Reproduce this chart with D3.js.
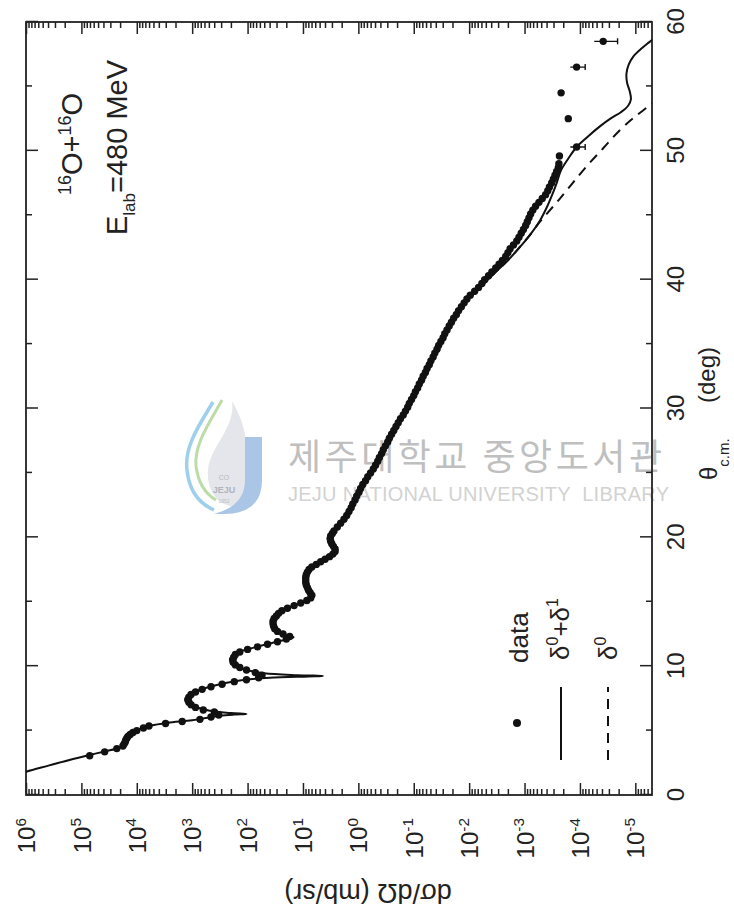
<!DOCTYPE html>
<html>
<head>
<meta charset="utf-8">
<script src="https://cdn.jsdelivr.net/npm/d3@7"></script>
<style>
  body { margin: 0; background: #fff; }
  svg { display: block; font-family: "Liberation Sans", Arial, sans-serif; }
</style>
</head>
<body>
<div id="chart"></div>
<script>
// 16O+16O elastic scattering at 480 MeV
// angles in degrees (c.m.), cross sections as log10 of mb/sr

var dataTheta = [
  3.05, 3.35, 3.6, 3.8, 3.95, 4.1, 4.25, 4.4, 4.55, 4.7, 4.85, 5.0, 5.2, 5.35, 5.55, 5.7, 5.87, 6.05, 6.2,
  6.45, 6.6, 6.8, 7.0, 7.2, 7.4, 7.6, 7.8, 8.0, 8.2, 8.4, 8.6, 8.8, 8.95, 9.1, 9.3, 9.5, 9.7, 9.9,
  10.1, 10.3, 10.5, 10.7, 10.9, 11.1, 11.3, 11.5, 11.7, 11.9, 12.1, 12.3, 12.5, 12.7, 12.9,
  13.1, 13.3, 13.5, 13.7, 13.9, 14.1, 14.3, 14.5, 14.7, 14.9, 15.1, 15.3, 15.5, 15.7, 15.9,
  16.1, 16.3, 16.5, 16.7, 16.9, 17.1, 17.3, 17.5, 17.7, 17.9, 18.1, 18.3, 18.5, 18.7, 18.9,
  19.1, 19.3, 19.5, 19.7, 19.9, 20.1, 20.3, 20.5, 20.8, 21.1, 21.4, 21.7, 22.0, 22.3, 22.6, 22.9,
  23.2, 23.5, 23.8, 24.1, 24.4, 24.7, 25.0, 25.3, 25.6, 25.9, 26.2, 26.5, 26.8, 27.1, 27.4, 27.7,
  28.0, 28.3, 28.6, 28.9, 29.2, 29.5, 29.8, 30.1, 30.4, 30.7, 31.0, 31.3, 31.6, 31.9, 32.2, 32.5,
  32.8, 33.1, 33.4, 33.7, 34.0, 34.3, 34.6, 34.9, 35.2, 35.5, 35.8, 36.1, 36.4, 36.7, 37.0, 37.3,
  37.6, 37.9, 38.2, 38.5, 38.8, 39.1, 39.4, 39.7, 40.0, 40.3, 40.6, 40.9, 41.2, 41.5, 41.8, 42.1,
  42.4, 42.7, 43.0, 43.3, 43.6, 43.9, 44.2, 44.5, 44.8, 45.1, 45.4, 45.7, 46.0, 46.3, 46.6, 46.9,
  47.2, 47.5, 47.8, 48.1, 48.4, 48.7, 49.0, 49.6, 50.3, 52.5, 54.5, 56.5, 58.5
];
var dataLogSigma = [
  4.85, 4.58, 4.36, 4.25, 4.23, 4.21, 4.2, 4.18, 4.16, 4.12, 4.07, 4.0, 3.88, 3.78, 3.48, 3.18, 2.86, 2.66, 2.52,
  2.6, 2.8, 2.94, 3.02, 3.06, 3.08, 3.06, 3.02, 2.94, 2.82, 2.66, 2.46, 2.24, 2.02, 1.8, 1.74, 1.86, 2.02, 2.14,
  2.22, 2.26, 2.27, 2.25, 2.22, 2.14, 2.0, 1.82, 1.64, 1.46, 1.3, 1.24, 1.36, 1.46, 1.51,
  1.53, 1.54, 1.54, 1.52, 1.48, 1.44, 1.38, 1.28, 1.16, 1.04, 0.93, 0.86, 0.84, 0.87, 0.9,
  0.92, 0.94, 0.95, 0.95, 0.95, 0.94, 0.92, 0.89, 0.84, 0.76, 0.68, 0.6, 0.52, 0.46, 0.42,
  0.42, 0.45, 0.48, 0.5, 0.51, 0.5, 0.47, 0.44, 0.38, 0.32, 0.26, 0.21, 0.17, 0.13, 0.1, 0.06,
  0.03, -0.01, -0.04, -0.08, -0.13, -0.17, -0.22, -0.27, -0.31, -0.35, -0.38, -0.42, -0.45, -0.49, -0.53, -0.56,
  -0.6, -0.64, -0.68, -0.72, -0.76, -0.81, -0.85, -0.89, -0.92, -0.96, -1.0, -1.03, -1.07, -1.1, -1.14, -1.17,
  -1.21, -1.24, -1.28, -1.31, -1.35, -1.38, -1.42, -1.45, -1.49, -1.53, -1.56, -1.6, -1.64, -1.68, -1.72, -1.77,
  -1.81, -1.86, -1.91, -1.96, -2.02, -2.1, -2.17, -2.23, -2.28, -2.35, -2.41, -2.48, -2.54, -2.6, -2.66, -2.7,
  -2.74, -2.8, -2.86, -2.9, -2.94, -2.98, -3.02, -3.05, -3.08, -3.11, -3.15, -3.2, -3.26, -3.32, -3.38, -3.42,
  -3.45, -3.49, -3.52, -3.55, -3.58, -3.61, -3.62, -3.63, -3.94, -3.79, -3.66, -3.94, -4.42
];
// relative errors of the few points that show a bar
var errTheta = [50.3, 56.5, 58.5];
var errFrac = [0.3, 0.3, 0.45];

// solid curve: delta0 + delta1
var fullTheta = [
  1.5, 1.81, 2.3, 2.8, 3.1, 3.4, 3.65, 3.85, 4.1, 4.4, 4.7, 4.95, 5.2, 5.4, 5.6, 5.8, 6.0, 6.15, 6.24, 6.29,
  6.36, 6.5, 6.75, 7.1, 7.5, 7.9, 8.3, 8.7, 8.95, 9.1, 9.2, 9.24, 9.3, 9.45, 9.7, 10.0, 10.5, 11.0, 11.4,
  11.8, 12.05, 12.25, 12.45, 12.75, 13.1, 13.5, 13.9, 14.4, 14.8, 15.1, 15.4, 15.7, 16.1, 16.6, 17.1,
  17.6, 18.1, 18.6, 19.0, 19.5, 20.1, 20.6, 21.3, 22.1, 23.0, 23.8, 24.7, 25.7, 27.0, 28.3, 29.6, 30.9,
  32.2, 33.5, 34.8, 36.1, 37.3, 38.4, 39.4, 40.4, 41.5, 42.6, 43.6, 44.6, 45.6, 46.6, 47.5, 48.5, 49.4,
  50.3, 51.1, 51.9, 52.5, 53.0, 53.5, 54.0, 54.6, 55.3, 56.0, 56.7, 57.3, 57.9, 58.4, 58.8
];
var fullLogSigma = [
  6.32, 6.0, 5.58, 5.15, 4.86, 4.56, 4.33, 4.24, 4.21, 4.18, 4.12, 4.04, 3.9, 3.74, 3.44, 3.0, 2.72, 2.5, 2.25, 2.02,
  2.3, 2.62, 2.88, 3.04, 3.08, 3.0, 2.76, 2.4, 2.05, 1.6, 0.9, 0.64, 1.1, 1.7, 2.02, 2.2, 2.28, 2.2, 1.92,
  1.56, 1.32, 1.17, 1.32, 1.48, 1.53, 1.54, 1.48, 1.34, 1.1, 0.92, 0.82, 0.88, 0.93, 0.95, 0.94,
  0.88, 0.69, 0.48, 0.40, 0.47, 0.51, 0.43, 0.28, 0.15, 0.05, -0.04, -0.17, -0.32, -0.48, -0.64, -0.83, -0.99,
  -1.14, -1.29, -1.44, -1.6, -1.77, -1.96, -2.2, -2.43, -2.7, -2.93, -3.12, -3.28, -3.4, -3.5, -3.58, -3.66, -3.79,
  -3.94, -4.14, -4.36, -4.55, -4.74, -4.87, -4.92, -4.9, -4.85, -4.84, -4.88, -4.96, -5.1, -5.24, -5.36
];

// dashed curve: delta0 only (sits under the solid one at smaller angles)
var bareTheta = [36.1, 37.3, 38.4, 39.4, 40.4, 41.5, 42.6, 43.6, 44.4, 45.1, 46.2, 47.4, 48.8, 50.2, 51.6, 52.6, 53.4, 53.8];
var bareLogSigma = [-1.6, -1.77, -1.96, -2.2, -2.43, -2.7, -2.93, -3.12, -3.26, -3.4, -3.62, -3.85, -4.12, -4.42, -4.72, -4.98, -5.22, -5.34];

var thetaTicks = [0, 10, 20, 30, 40, 50, 60];
var thetaMinorTicks = [5, 15, 25, 35, 45, 55];
var sigmaExponents = [-5, -4, -3, -2, -1, 0, 1, 2, 3, 4, 5, 6];
var minorMantissas = [2, 3, 4, 5, 6, 7, 8, 9];

var svgWidth = 734;
var svgHeight = 919;

// plot frame on the page
var frame = { left: 26, top: 22, right: 652, bottom: 795 };

// the figure is printed sideways: it is built upright and then turned a quarter turn,
// so "width" runs along theta (up the page) and "height" along the cross section
var width = frame.bottom - frame.top;
var height = frame.right - frame.left;

var svg = d3.select("#chart")
  .append("svg")
  .attr("width", svgWidth)
  .attr("height", svgHeight);

// library watermark (under the plot)
var mark = svg.append("g");

mark.append("path")
  .attr("d", "M232,401 C236,428 210,446 208,470 C206,494 222,510 242,506 C250,490 250,470 246,440 C243,420 236,408 232,401 Z")
  .attr("fill", "#e4e6ec");
mark.append("path")
  .attr("d", "M213,402 C200,424 184,446 187,470 C189,490 198,503 214,510")
  .attr("fill", "none").attr("stroke", "#9ed0ec").attr("stroke-width", 3.5);
mark.append("path")
  .attr("d", "M222,400 C210,422 194,444 196,466 C198,482 204,493 216,500")
  .attr("fill", "none").attr("stroke", "#bcdca6").attr("stroke-width", 3);
mark.append("path")
  .attr("d", "M245,437 L262,437 L262,480 Q262,513 226,514 L214,514 Q245,506 245,480 Z")
  .attr("fill", "#abc5e7");
mark.append("text")
  .attr("x", 224).attr("y", 480).attr("text-anchor", "middle")
  .attr("font-size", 7).attr("fill", "#b8b8b8").text("CO");
mark.append("text")
  .attr("x", 224).attr("y", 493).attr("text-anchor", "middle")
  .attr("font-size", 9).attr("font-weight", "bold").attr("fill", "#b0b4bc").text("JEJU");
mark.append("text")
  .attr("x", 224).attr("y", 503).attr("text-anchor", "middle")
  .attr("font-size", 5).attr("fill", "#c0c0c0").text("1952");

mark.append("text")
  .attr("x", 288).attr("y", 470)
  .attr("font-family", "'Noto Sans CJK KR', sans-serif")
  .attr("font-size", 36)
  .attr("fill", "#bfbfbf")
  .attr("textLength", 374)
  .text("제주대학교 중앙도서관");

mark.append("text")
  .attr("x", 288).attr("y", 501)
  .attr("font-size", 20)
  .attr("fill", "#d2d2d2")
  .attr("textLength", 381)
  .attr("xml:space", "preserve")
  .text("JEJU NATIONAL UNIVERSITY  LIBRARY");

var chartGroup = svg.append("g")
  .attr("transform", `translate(${frame.left}, ${frame.bottom}) rotate(-90)`);

var xScale = d3.scaleLinear()
  .domain([0, 60])
  .range([0, width]);

var yScale = d3.scaleLog()
  .domain([5e-6, 1e6])
  .range([height, 0]);

var toSigma = function(l) { return Math.pow(10, l); };

chartGroup.append("defs")
  .append("clipPath")
  .attr("id", "plot-clip")
  .append("rect")
  .attr("width", width)
  .attr("height", height);

// theta axis (right side of the page) and its mirror
chartGroup.append("g")
  .attr("transform", `translate(0, ${height})`)
  .call(d3.axisBottom(xScale).tickValues(thetaTicks).tickSize(-12).tickPadding(15));
chartGroup.append("g")
  .attr("transform", `translate(0, ${height})`)
  .call(d3.axisBottom(xScale).tickValues(thetaMinorTicks).tickSize(-6).tickFormat(""));
chartGroup.append("g")
  .call(d3.axisTop(xScale).tickValues(thetaTicks).tickSize(-12).tickFormat(""));
chartGroup.append("g")
  .call(d3.axisTop(xScale).tickValues(thetaMinorTicks).tickSize(-6).tickFormat(""));

// cross-section axis (bottom of the page) and its mirror
var sigmaMajor = sigmaExponents.map(toSigma);
var sigmaMinor = [];
[-6].concat(sigmaExponents).forEach(function(e) {
  minorMantissas.forEach(function(m) {
    var v = m * Math.pow(10, e);
    if (v >= 5e-6 && v < 1e6) sigmaMinor.push(v);
  });
});

var leftAxis = chartGroup.append("g")
  .call(d3.axisLeft(yScale).tickValues(sigmaMajor).tickSize(-12).tickPadding(23).tickFormat(""));
chartGroup.append("g")
  .call(d3.axisLeft(yScale).tickValues(sigmaMinor).tickSize(-6).tickFormat(""));
chartGroup.append("g")
  .attr("transform", `translate(${width}, 0)`)
  .call(d3.axisRight(yScale).tickValues(sigmaMajor).tickSize(-12).tickFormat(""));
chartGroup.append("g")
  .attr("transform", `translate(${width}, 0)`)
  .call(d3.axisRight(yScale).tickValues(sigmaMinor).tickSize(-6).tickFormat(""));

leftAxis.selectAll(".tick text").each(function(d) {
  var e = Math.round(Math.log10(d));
  var t = d3.select(this).attr("dy", "0.36em");
  t.append("tspan").text("10");
  t.append("tspan").attr("dy", "-0.62em").attr("font-size", "0.64em").text(e);
});

chartGroup.selectAll(".domain").remove();
chartGroup.selectAll(".tick line").attr("stroke", "#222").attr("stroke-width", 1.5);
chartGroup.selectAll(".tick text")
  .attr("fill", "#222")
  .attr("font-size", 24)
  .attr("font-family", "'Liberation Sans', Arial, sans-serif");

chartGroup.append("rect")
  .attr("width", width)
  .attr("height", height)
  .attr("fill", "none")
  .attr("stroke", "#222")
  .attr("stroke-width", 1.8);

// curves
var line = d3.line()
  .x(d => xScale(d[0]))
  .y(d => yScale(toSigma(d[1])))
  .curve(d3.curveCatmullRom.alpha(0.5));

var plotArea = chartGroup.append("g").attr("clip-path", "url(#plot-clip)");

plotArea.append("path")
  .datum(d3.zip(bareTheta, bareLogSigma))
  .attr("d", line)
  .attr("fill", "none")
  .attr("stroke", "#111")
  .attr("stroke-width", 2)
  .attr("stroke-dasharray", "10,7");

plotArea.append("path")
  .datum(d3.zip(fullTheta, fullLogSigma))
  .attr("d", line)
  .attr("fill", "none")
  .attr("stroke", "#111")
  .attr("stroke-width", 2);

// error bars
var errData = d3.zip(errTheta, errFrac).map(function(p) {
  var i = dataTheta.indexOf(p[0]);
  return { theta: p[0], sigma: toSigma(dataLogSigma[i]), frac: p[1] };
});
var errGroup = plotArea.selectAll(".err").data(errData).enter().append("g");
errGroup.append("line")
  .attr("x1", d => xScale(d.theta)).attr("x2", d => xScale(d.theta))
  .attr("y1", d => yScale(d.sigma * (1 + d.frac))).attr("y2", d => yScale(d.sigma * (1 - d.frac)))
  .attr("stroke", "#111").attr("stroke-width", 1.4);
errGroup.append("line")
  .attr("x1", d => xScale(d.theta) - 3).attr("x2", d => xScale(d.theta) + 3)
  .attr("y1", d => yScale(d.sigma * (1 - d.frac))).attr("y2", d => yScale(d.sigma * (1 - d.frac)))
  .attr("stroke", "#111").attr("stroke-width", 1.4);

// data points
plotArea.selectAll("circle")
  .data(d3.zip(dataTheta, dataLogSigma))
  .enter()
  .append("circle")
  .attr("cx", d => xScale(d[0]))
  .attr("cy", d => yScale(toSigma(d[1])))
  .attr("r", 3.7)
  .attr("fill", "#111");

// axis titles
var thetaTitle = chartGroup.append("text")
  .attr("x", 315)
  .attr("y", 691)
  .attr("font-size", 24)
  .attr("fill", "#222");
thetaTitle.append("tspan").text("θ");
thetaTitle.append("tspan").attr("dy", 12).attr("font-size", 15).text("c.m.");
chartGroup.append("text")
  .attr("x", 392)
  .attr("y", 689)
  .attr("font-size", 24)
  .attr("fill", "#222")
  .text("(deg)");

chartGroup.append("text")
  .attr("transform", `translate(-98, 342) rotate(-90)`)
  .attr("dy", "0.35em")
  .attr("text-anchor", "middle")
  .attr("font-size", 27)
  .attr("fill", "#222")
  .text("dσ/dΩ (mb/sr)");

// reaction label
var reaction = chartGroup.append("text")
  .attr("x", 600)
  .attr("y", 56)
  .attr("font-size", 29)
  .attr("fill", "#222");
reaction.append("tspan").attr("font-size", 18).attr("dy", -11).text("16");
reaction.append("tspan").attr("dy", 11).text("O+");
reaction.append("tspan").attr("font-size", 18).attr("dy", -11).text("16");
reaction.append("tspan").attr("dy", 11).text("O");

var energy = chartGroup.append("text")
  .attr("x", 560)
  .attr("y", 101)
  .attr("font-size", 29)
  .attr("fill", "#222");
energy.append("tspan").text("E");
energy.append("tspan").attr("font-size", 17).attr("dy", 8).text("lab");
energy.append("tspan").attr("dy", -8).text("=480 MeV");

// legend
var legend = chartGroup.append("g");
legend.append("circle")
  .attr("cx", 72).attr("cy", 491).attr("r", 4).attr("fill", "#111");
legend.append("text")
  .attr("x", 132).attr("y", 502)
  .attr("font-size", 26).attr("fill", "#222")
  .text("data");

legend.append("line")
  .attr("x1", 35).attr("x2", 108).attr("y1", 535).attr("y2", 535)
  .attr("stroke", "#111").attr("stroke-width", 2);
var fullLabel = legend.append("text")
  .attr("x", 135).attr("y", 543)
  .attr("font-size", 26).attr("fill", "#222");
fullLabel.append("tspan").text("δ");
fullLabel.append("tspan").attr("font-size", 16).attr("dy", -11).text("0");
fullLabel.append("tspan").attr("dy", 11).text("+δ");
fullLabel.append("tspan").attr("font-size", 16).attr("dy", -11).text("1");

legend.append("line")
  .attr("x1", 35).attr("x2", 108).attr("y1", 582).attr("y2", 582)
  .attr("stroke", "#111").attr("stroke-width", 2)
  .attr("stroke-dasharray", "10,7");
var bareLabel = legend.append("text")
  .attr("x", 135).attr("y", 591)
  .attr("font-size", 26).attr("fill", "#222");
bareLabel.append("tspan").text("δ");
bareLabel.append("tspan").attr("font-size", 16).attr("dy", -11).text("0");
</script>
</body>
</html>
